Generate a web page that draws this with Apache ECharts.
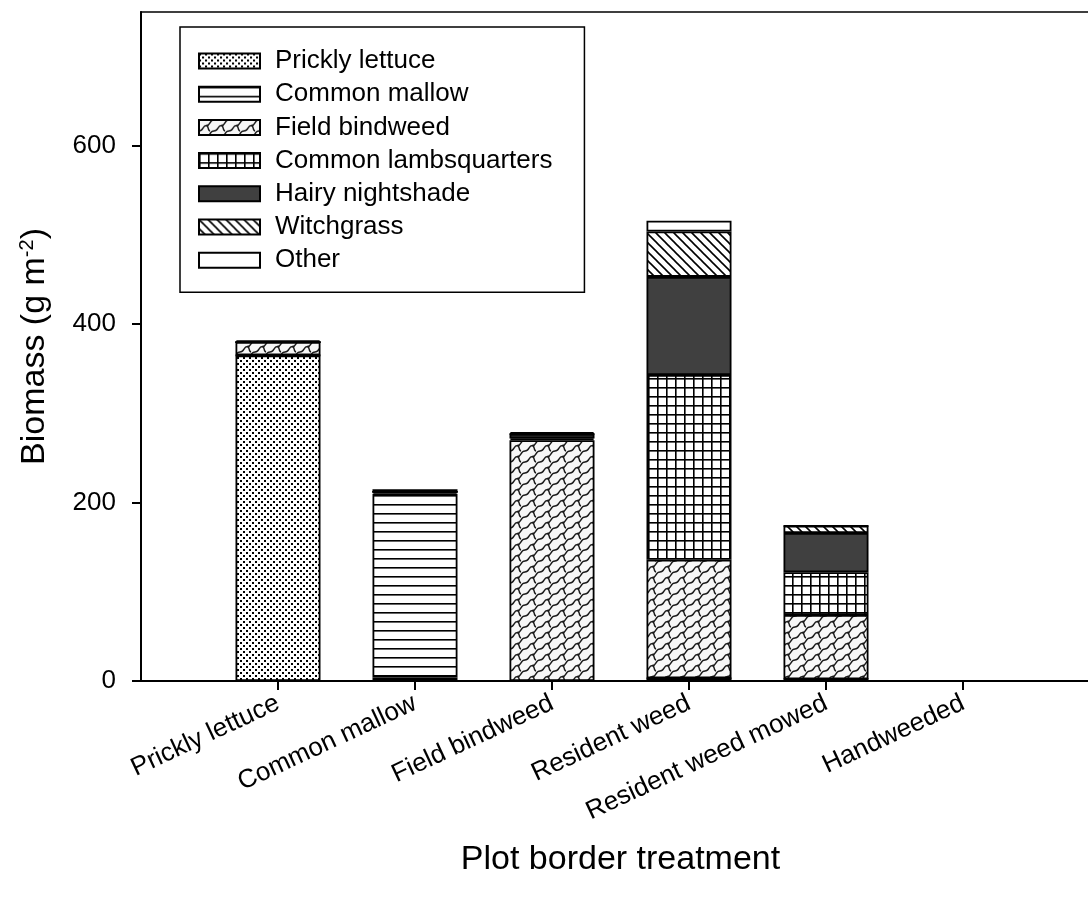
<!DOCTYPE html>
<html>
<head>
<meta charset="utf-8">
<script src="https://cdn.jsdelivr.net/npm/echarts@6/dist/echarts.min.js"></script>
<style>
  html, body { margin: 0; padding: 0; background: #fff; }
  #chart { width: 1088px; height: 899px; }
</style>
</head>
<body>
<div id="chart"></div>
<script>
// Treatments along the x axis (blank slots pad both ends of the axis)
const categories = ['', 'Prickly lettuce', 'Common mallow', 'Field bindweed', 'Resident weed', 'Resident weed mowed', 'Handweeded', ''];

// Weed biomass (g m-2) by species, one value per treatment slot
const pricklyLettuce      = [null, 365, 4,   0,   3,   2,   0, null];
const commonMallow        = [null, 0,   206, 0,   0,   0,   0, null];
const fieldBindweed       = [null, 15,  2,   270, 133, 72,  0, null];
const commonLambsquarters = [null, 0,   0,   2,   207, 48,  0, null];
const hairyNightshade     = [null, 0,   0,   5,   110, 44,  0, null];
const witchgrass          = [null, 0,   0,   0,   51,  8,   0, null];
const other               = [null, 2,   3,   2,   12,  0,   0, null];

const yTicks = [0, 200, 400, 600];

const FONT = "'Liberation Sans', Arial, sans-serif";

// ---- fill patterns ----
function tile(w, h, draw, bg) {
  const c = document.createElement('canvas');
  c.width = w; c.height = h;
  const g = c.getContext('2d');
  g.fillStyle = bg || '#fff';
  g.fillRect(0, 0, w, h);
  draw(g);
  return { image: c, repeat: 'repeat' };
}

// stippled squares
const dotsFill = tile(6, 6, g => {
  g.fillStyle = '#000';
  g.fillRect(0, 0, 2, 2);
  g.fillRect(3, 3, 2, 2);
});

// horizontal rules
const hLinesFill = tile(10, 9, g => {
  g.fillStyle = '#000';
  g.fillRect(0, 0, 10, 1.6);
});

// interlocking S-shaped waves
const wavesFill = tile(15, 11, g => {
  g.strokeStyle = '#1a1a1a';
  g.lineWidth = 1.4;
  const s = (dx, dy) => {
    g.beginPath();
    g.moveTo(dx + 0, dy + 11);
    g.bezierCurveTo(dx + 5, dy + 11, dx + 3, dy + 5.5, dx + 7.5, dy + 5.5);
    g.bezierCurveTo(dx + 12, dy + 5.5, dx + 10, dy + 0, dx + 15, dy + 0);
    g.stroke();
    g.beginPath();
    g.moveTo(dx + 7.5, dy + 5.5);
    g.bezierCurveTo(dx + 10.5, dy + 7, dx + 8, dy + 10, dx + 11, dy + 11);
    g.stroke();
  };
  for (const dx of [-15, 0, 15]) for (const dy of [-11, 0, 11]) s(dx, dy);
}, '#f7f7f7');

// square grid
const gridFill = tile(9, 9, g => {
  g.fillStyle = '#000';
  g.fillRect(0, 0, 9, 1.6);
  g.fillRect(0, 0, 1.6, 9);
});

// back-slash hatching
const diagFill = tile(9, 9, g => {
  g.strokeStyle = '#000';
  g.lineWidth = 1.6;
  for (let k = -1; k <= 1; k++) {
    g.beginPath();
    g.moveTo(k * 9 - 1, -1);
    g.lineTo(k * 9 + 10, 10);
    g.stroke();
  }
});

function bar(name, data, fill) {
  return {
    name: name,
    type: 'bar',
    stack: 'biomass',
    data: data,
    barWidth: 85,
    itemStyle: { color: fill, borderColor: '#000', borderWidth: 1.8 },
    emphasis: { disabled: true }
  };
}

const chart = echarts.init(document.getElementById('chart'), null, { renderer: 'canvas' });

chart.setOption({
  animation: false,
  backgroundColor: '#fff',
  textStyle: { fontFamily: FONT, color: '#000' },
  grid: {
    left: 141, top: 12, width: 959, height: 669,
    outerBoundsMode: 'none',
    containLabel: false,
    show: true, borderColor: '#000', borderWidth: 1.5, backgroundColor: 'transparent'
  },
  legend: {
    left: 180, top: 27,
    orient: 'vertical',
    padding: [21, 32, 19, 18],
    borderColor: '#000', borderWidth: 1.5,
    itemWidth: 61, itemHeight: 15, itemGap: 7.2,
    textStyle: { fontFamily: FONT, fontSize: 26, color: '#000', lineHeight: 26, padding: [0, 0, 0, 10] },
    selectedMode: false,
    icon: 'rect'
  },
  xAxis: {
    type: 'category',
    data: categories,
    boundaryGap: false,
    axisLine: { lineStyle: { color: '#000', width: 2 } },
    axisTick: {
      length: 9, lineStyle: { color: '#000', width: 2 },
      interval: (i, v) => v !== ''
    },
    axisLabel: {
      rotate: 25, fontSize: 26, color: '#000', fontFamily: FONT, margin: 21,
      interval: 0
    },
    splitLine: { show: false },
    name: 'Plot border treatment',
    nameLocation: 'middle',
    nameGap: 162,
    nameTextStyle: { fontSize: 34, color: '#000', fontFamily: FONT }
  },
  yAxis: {
    type: 'value',
    min: 0, max: 750,
    axisLine: { show: true, lineStyle: { color: '#000', width: 2 } },
    axisTick: { show: true, length: 9, lineStyle: { color: '#000', width: 2 }, customValues: yTicks },
    axisLabel: { fontSize: 26, color: '#000', fontFamily: FONT, margin: 25, customValues: yTicks },
    splitLine: { show: false },
    name: '{a|Biomass (g m}{s|-2}{a|)}',
    nameLocation: 'middle',
    nameGap: 89,
    nameRotate: 90,
    nameTextStyle: {
      fontFamily: FONT, color: '#000',
      rich: {
        a: { fontSize: 34, fontFamily: FONT, color: '#000' },
        s: { fontSize: 20, fontFamily: FONT, color: '#000', padding: [0, 0, 15, 0] }
      }
    }
  },
  series: [
    bar('Prickly lettuce', pricklyLettuce, dotsFill),
    bar('Common mallow', commonMallow, hLinesFill),
    bar('Field bindweed', fieldBindweed, wavesFill),
    bar('Common lambsquarters', commonLambsquarters, gridFill),
    bar('Hairy nightshade', hairyNightshade, '#404040'),
    bar('Witchgrass', witchgrass, diagFill),
    bar('Other', other, '#fff')
  ]
});
</script>
</body>
</html>
